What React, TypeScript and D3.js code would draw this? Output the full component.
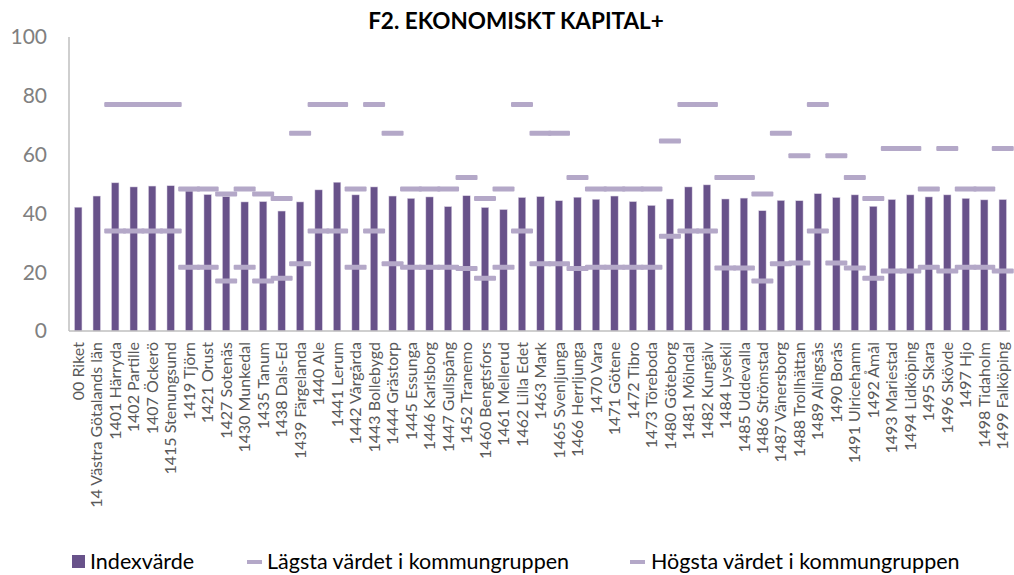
import { useEffect, useRef } from 'react';
import * as d3 from 'd3';

const categories = [
  '00 Riket', '14 Västra Götalands län', '1401 Härryda', '1402 Partille', '1407 Öckerö',
  '1415 Stenungsund', '1419 Tjörn', '1421 Orust', '1427 Sotenäs', '1430 Munkedal',
  '1435 Tanum', '1438 Dals-Ed', '1439 Färgelanda', '1440 Ale', '1441 Lerum',
  '1442 Vårgårda', '1443 Bollebygd', '1444 Grästorp', '1445 Essunga', '1446 Karlsborg',
  '1447 Gullspång', '1452 Tranemo', '1460 Bengtsfors', '1461 Mellerud', '1462 Lilla Edet',
  '1463 Mark', '1465 Svenljunga', '1466 Herrljunga', '1470 Vara', '1471 Götene',
  '1472 Tibro', '1473 Töreboda', '1480 Göteborg', '1481 Mölndal', '1482 Kungälv',
  '1484 Lysekil', '1485 Uddevalla', '1486 Strömstad', '1487 Vänersborg', '1488 Trollhättan',
  '1489 Alingsås', '1490 Borås', '1491 Ulricehamn', '1492 Åmål', '1493 Mariestad',
  '1494 Lidköping', '1495 Skara', '1496 Skövde', '1497 Hjo', '1498 Tidaholm', '1499 Falköping',
];

const indexValues = [
  42.1, 45.9, 50.4, 49.0, 49.3, 49.4, 47.6, 46.4, 45.7, 43.9,
  44.0, 40.8, 43.9, 48.0, 50.6, 46.3, 49.0, 45.9, 45.1, 45.6,
  42.3, 46.0, 42.0, 41.3, 45.4, 45.7, 44.3, 45.5, 44.8, 45.9,
  44.0, 42.7, 44.9, 49.0, 49.7, 44.9, 45.2, 40.9, 44.4, 44.3,
  46.7, 45.4, 46.3, 42.4, 44.7, 46.3, 45.6, 46.3, 45.1, 44.6, 44.7,
];

const lowValues: (number | null)[] = [
  null, null, 34.0, 34.0, 34.0, 34.0, 21.7, 21.7, 17.0, 21.7,
  17.0, 17.9, 22.9, 34.0, 34.0, 21.7, 34.0, 22.9, 21.7, 21.7,
  21.7, 21.3, 17.9, 21.7, 34.0, 22.9, 22.9, 21.3, 21.7, 21.7,
  21.7, 21.7, 32.2, 34.0, 34.0, 21.4, 21.4, 17.0, 22.9, 23.1,
  34.0, 23.1, 21.4, 17.9, 20.4, 20.4, 21.7, 20.4, 21.7, 21.7, 20.4,
];

const highValues: (number | null)[] = [
  null, null, 77.0, 77.0, 77.0, 77.0, 48.3, 48.3, 46.6, 48.3,
  46.6, 45.1, 67.3, 77.0, 77.0, 48.3, 77.0, 67.3, 48.3, 48.3,
  48.3, 52.2, 45.1, 48.3, 77.0, 67.3, 67.3, 52.2, 48.3, 48.3,
  48.3, 48.3, 64.6, 77.0, 77.0, 52.2, 52.2, 46.6, 67.3, 59.6,
  77.0, 59.6, 52.2, 45.1, 62.1, 62.1, 48.3, 62.1, 48.3, 48.3, 62.1,
];

const yTicks = [0, 20, 40, 60, 80, 100];

const title = 'F2. EKONOMISKT KAPITAL+';
const legendLabels = ['Indexvärde', 'Lägsta värdet i kommungruppen', 'Högsta värdet i kommungruppen'];

const BAR = '#68528a';
const DASH = '#b4a8c8';
const FONT = 'Lato, "Open Sans", sans-serif';

export default function App() {
  const ref = useRef<SVGSVGElement>(null);

  useEffect(() => {
    if (!ref.current) return;
    const W = 1014, H = 575;
    const margin = { top: 37, right: 2, bottom: 244, left: 69 };
    const svg = d3.select(ref.current).attr('width', W).attr('height', H);
    svg.selectAll('*').remove();

    const x = d3.scaleBand<string>().domain(categories)
      .range([margin.left, W - margin.right]).paddingInner(0).paddingOuter(0);
    const y = d3.scaleLinear().domain([0, 100]).range([H - margin.bottom, margin.top]);
    const bw = 7.4, dw = 22, dh = 5;

    svg.append('text').attr('x', 516).attr('y', 29).attr('text-anchor', 'middle')
      .attr('font-family', FONT).attr('font-weight', 700).attr('font-size', 22.5)
      .attr('fill', '#000').text(title);

    // y axis labels
    svg.selectAll('.yt').data(yTicks).join('text')
      .attr('x', 47).attr('y', d => y(d)).attr('dy', '0.35em').attr('text-anchor', 'end')
      .attr('font-family', FONT).attr('font-size', 21).attr('fill', '#808080').text(d => d);

    svg.append('line').attr('x1', margin.left).attr('x2', margin.left)
      .attr('y1', y(100)).attr('y2', y(0)).attr('stroke', '#bfbfbf').attr('stroke-width', 1.5);

    // bars
    svg.selectAll('.bar').data(categories).join('rect')
      .attr('x', d => x(d)! + x.bandwidth() / 2 - bw / 2)
      .attr('y', (d, i) => y(indexValues[i]))
      .attr('width', bw)
      .attr('height', (d, i) => y(0) - y(indexValues[i]))
      .attr('fill', BAR).attr('stroke', '#d8d0e2').attr('stroke-width', 0.5);

    // low and high dashes
    [lowValues, highValues].forEach(vals => {
      svg.append('g').selectAll('rect').data(categories.filter((_, i) => vals[i] != null)).join('rect')
        .attr('x', d => x(d)! + x.bandwidth() / 2 - dw / 2)
        .attr('y', d => y(vals[categories.indexOf(d)] as number) - dh / 2)
        .attr('width', dw).attr('height', dh).attr('rx', 1)
        .attr('fill', DASH);
    });

    svg.append('line').attr('x1', margin.left).attr('x2', W - margin.right - 2)
      .attr('y1', y(0)).attr('y2', y(0)).attr('stroke', '#bfbfbf').attr('stroke-width', 1.5);

    // category labels
    svg.selectAll('.xl').data(categories).join('text')
      .attr('transform', d => `translate(${x(d)! + x.bandwidth() / 2},${y(0) + 11}) rotate(-90)`)
      .attr('dy', '0.35em').attr('text-anchor', 'end')
      .attr('font-family', FONT).attr('font-size', 16).attr('fill', '#595959').text(d => d);

    // legend
    const ly = 561;
    const lg = svg.append('g').attr('font-family', FONT).attr('font-size', 21.5).attr('fill', '#000');
    lg.append('rect').attr('x', 72).attr('y', ly - 6).attr('width', 13).attr('height', 13).attr('fill', BAR);
    lg.append('text').attr('x', 90).attr('y', ly).attr('dy', '0.35em').text(legendLabels[0]);
    lg.append('rect').attr('x', 247).attr('y', ly - 1).attr('width', 15).attr('height', 4).attr('fill', DASH);
    lg.append('text').attr('x', 267).attr('y', ly).attr('dy', '0.35em').text(legendLabels[1]);
    lg.append('rect').attr('x', 630).attr('y', ly - 1).attr('width', 15).attr('height', 4).attr('fill', DASH);
    lg.append('text').attr('x', 651).attr('y', ly).attr('dy', '0.35em').text(legendLabels[2]);
  }, []);

  return <svg ref={ref} style={{ position: 'absolute', left: 0, top: 0 }} />;
}
